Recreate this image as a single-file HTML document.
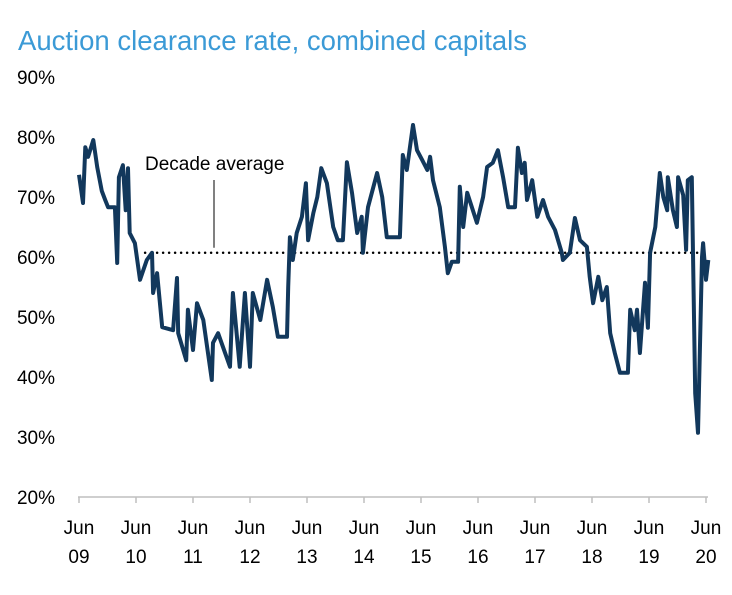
<!DOCTYPE html>
<html><head><meta charset="utf-8"><style>
body{margin:0;background:#fff;width:732px;height:595px;overflow:hidden}
svg{display:block;font-family:"Liberation Sans",Calibri,sans-serif}
</style></head><body>
<svg id="chart" width="732" height="595">
<text x="18" y="50" font-size="27.5" fill="#3b9ad6">Auction clearance rate, combined capitals</text>
<g id="yaxis"></g>
<g id="xaxis"></g>
<g id="avg"></g>
<g id="series"></g>
</svg>
<script>
const yTicks=[20,30,40,50,60,70,80,90];
const xYears=["09","10","11","12","13","14","15","16","17","18","19","20"];
const decadeAverage=60.7;
const dates=[0,.07,.11,.16,.25,.32,.40,.46,.51,.63,.67,.70,.77,.82,.86,.89,.98,1.07,1.19,1.28,1.30,1.37,1.46,1.65,1.72,1.74,1.88,1.91,2.00,2.07,2.18,2.33,2.35,2.44,2.65,2.70,2.82,2.91,3.00,3.05,3.18,3.30,3.40,3.49,3.65,3.67,3.70,3.75,3.82,3.91,3.98,4.02,4.11,4.18,4.25,4.35,4.46,4.54,4.63,4.70,4.79,4.88,4.96,4.98,5.07,5.23,5.32,5.40,5.63,5.68,5.75,5.86,5.93,6.02,6.11,6.16,6.21,6.33,6.42,6.47,6.54,6.65,6.68,6.74,6.81,6.98,7.09,7.16,7.26,7.35,7.44,7.53,7.65,7.70,7.77,7.82,7.86,7.95,8.04,8.14,8.23,8.35,8.47,8.49,8.61,8.70,8.79,8.91,8.96,9.02,9.11,9.18,9.26,9.32,9.40,9.49,9.63,9.67,9.75,9.79,9.84,9.93,9.98,10.02,10.11,10.19,10.25,10.32,10.33,10.42,10.49,10.51,10.60,10.65,10.68,10.75,10.81,10.86,10.93,10.95,11.00,11.04];
const rates=[73.7,69,78.3,76.7,79.5,75,71,69.5,68.3,68.3,59,73.3,75.3,67.8,74.8,64,62.3,56.2,59.5,60.7,54,57.3,48.3,47.8,56.5,47.3,42.8,51.2,44.5,52.3,49.5,39.5,45.7,47.3,41.7,54,41.7,54,41.7,54,49.5,56.2,51.7,46.7,46.7,55,63.3,59.5,64,66.7,72.3,62.8,67.3,70,74.8,72.3,65,62.8,62.8,75.8,70.7,64,66.7,60.7,68.3,74,70,63.3,63.3,77,74.5,82,77.8,76.2,74.5,76.7,72.8,68.3,61.7,57.3,59.2,59.2,71.7,65,70.7,65.7,70,75,75.7,77.8,73.3,68.3,68.3,78.2,74,75.7,69.5,72.8,66.7,69.5,66.7,64.5,60.7,59.5,60.7,66.5,62.8,61.7,56.7,52.3,56.7,52.8,55,47.3,44,40.7,40.7,51.2,47.8,51.2,44,55.7,48.2,60.7,65,74,70,67.8,73.3,67.8,65,73.3,70.3,61.2,72.8,73.3,37.3,30.7,60,62.3,56.2,59.5];
const NS="http://www.w3.org/2000/svg";
const X=t=>79+t*57, Y=v=>497-(v-20)*6;
function mk(tag,attrs,parent){const e=document.createElementNS(NS,tag);for(const k in attrs)e.setAttribute(k,attrs[k]);parent.appendChild(e);return e;}
const ya=document.getElementById('yaxis'),xa=document.getElementById('xaxis'),av=document.getElementById('avg'),se=document.getElementById('series');
yTicks.forEach(v=>{const t=mk('text',{x:55,y:Y(v)+7,'text-anchor':'end','font-size':19,fill:'#000'},ya);t.textContent=v+'%';

});
const axl=mk('line',{x1:78,x2:708,y1:497,y2:497,stroke:'#bfbfbf','stroke-width':1.5},xa);


xYears.forEach((y,i)=>{const x=X(i);mk('line',{x1:x,x2:x,y1:497,y2:503,stroke:'#bfbfbf','stroke-width':1.5},xa);
const a=mk('text',{x:x,y:534,'text-anchor':'middle','font-size':19},xa);a.textContent='Jun';


const b=mk('text',{x:x,y:563,'text-anchor':'middle','font-size':19},xa);b.textContent=y;

});
const al=mk('line',{x1:X(1.16),x2:X(11.0),y1:Y(decadeAverage),y2:Y(decadeAverage),stroke:'#000','stroke-width':2.5,'stroke-dasharray':'0 6','stroke-linecap':'round'},av);


mk('line',{x1:214,x2:214,y1:180,y2:Y(decadeAverage)-5,stroke:'#000','stroke-width':1},av);
const lt=mk('text',{x:145,y:170,'font-size':19},av);lt.textContent='Decade average';


const pl=mk('polyline',{points:dates.map((t,i)=>X(t).toFixed(1)+','+Y(rates[i]).toFixed(1)).join(' '),fill:'none',stroke:'#12385c','stroke-width':4,'stroke-linejoin':'round'},se);


</script>
</body></html>
